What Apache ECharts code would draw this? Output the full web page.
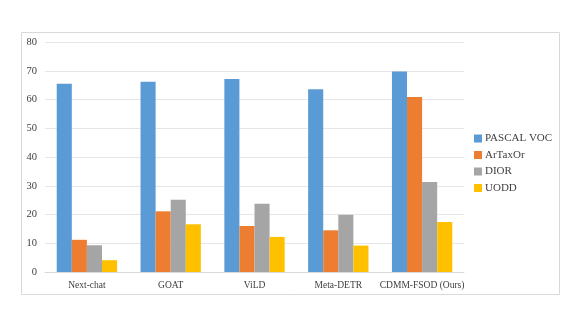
<!DOCTYPE html>
<html>
<head>
<meta charset="utf-8">
<script src="https://cdn.jsdelivr.net/npm/echarts@6/dist/echarts.min.js"></script>
<style>
  html, body { margin: 0; padding: 0; background: #fff; }
  #chart { width: 581px; height: 327px; }
</style>
</head>
<body>
<div id="chart"></div>
<script>
const categories = ["Next-chat", "GOAT", "ViLD", "Meta-DETR", "CDMM-FSOD (Ours)"];
const seriesNames = ["PASCAL VOC", "ArTaxOr", "DIOR", "UODD"];
const pascalVoc = [65.5, 66.2, 67.1, 63.6, 69.7];
const arTaxOr = [11.2, 21.1, 16.0, 14.5, 60.9];
const dior = [9.3, 25.1, 23.7, 19.9, 31.3];
const uodd = [4.1, 16.6, 12.2, 9.2, 17.4];

const colors = ["#5B9BD5", "#ED7D31", "#A5A5A5", "#FFC000"];
const font = "Liberation Serif";

const chart = echarts.init(document.getElementById("chart"));
chart.setOption({
  color: colors,
  animation: false,
  textStyle: { fontFamily: font },
  graphic: [
    {
      type: "rect",
      shape: { x: 21.5, y: 32.5, width: 538, height: 262 },
      style: { fill: "none", stroke: "#d9d9d9", lineWidth: 1 },
      silent: true
    }
  ],
  grid: {
    left: 45,
    right: 117,
    top: 42,
    bottom: 55
  },
  legend: {
    orient: "vertical",
    left: 474,
    top: 133,
    padding: 0,
    itemWidth: 8,
    itemHeight: 8,
    itemGap: 5.5,
    icon: "rect",
    textStyle: { fontFamily: font, fontSize: 11, color: "#404040", padding: [0, 0, 0, -2] },
    data: seriesNames
  },
  xAxis: {
    type: "category",
    data: categories,
    axisTick: { show: false },
    axisLine: { lineStyle: { color: "#d9d9d9" } },
    axisLabel: { fontFamily: font, fontSize: 9.5, color: "#404040", margin: 8, interval: 0 }
  },
  yAxis: {
    type: "value",
    min: 0,
    max: 80,
    interval: 10,
    axisLine: { show: false },
    axisTick: { show: false },
    axisLabel: { fontFamily: font, fontSize: 10.5, color: "#404040", margin: 8 },
    splitLine: { lineStyle: { color: "#e6e6e6" } }
  },
  series: [
    { name: seriesNames[0], type: "bar", data: pascalVoc, barGap: "0%", barCategoryGap: "28%" },
    { name: seriesNames[1], type: "bar", data: arTaxOr, barGap: "0%", barCategoryGap: "28%" },
    { name: seriesNames[2], type: "bar", data: dior, barGap: "0%", barCategoryGap: "28%" },
    { name: seriesNames[3], type: "bar", data: uodd, barGap: "0%", barCategoryGap: "28%" }
  ]
});
</script>
</body>
</html>
